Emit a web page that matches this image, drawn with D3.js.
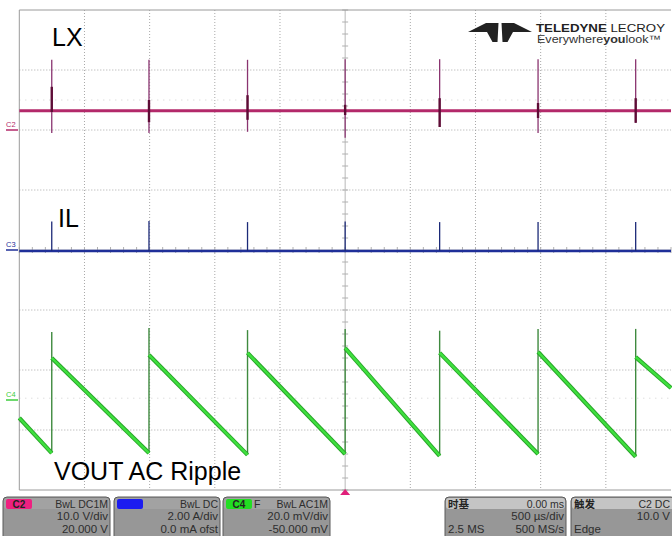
<!DOCTYPE html>
<html>
<head>
<meta charset="utf-8">
<script src="https://cdn.jsdelivr.net/npm/d3@7"></script>
<style>
  body { margin: 0; background: #fff; }
  svg { display: block; font-family: "Liberation Sans", Arial, sans-serif; }
</style>
</head>
<body>
<div id="scope"></div>
<script>
// timebase 500 us/div, 10 div across, trigger at 0
var timeDomain = [-2500, 2500];
var divDomain = [-4, 4];

// switching pulse times (us)
var pulseTimes = [-2251, -1505, -749, 0, 725, 1480, 2229];

// C2 : LX (V)
var lxBase = 3.2;
var lxSpikeMax = [11.7, 11.7, 11.7, 11.8, 11.8, 11.8, 11.8];
var lxSpikeMin = [-0.5, -0.5, -0.3, -1.3, 0.5, -0.5, 1.2];
var lxBodyHi = [7.2, 5.0, 5.8, 4.2, 5.3, 4.5, 5.3];
var lxBodyLo = [3.0, 1.3, 1.7, 2.5, 0.5, 2.0, 1.2];

// C3 : IL (A)
var ilBase = 0;
var ilPeak = [0.95, 0.97, 0.93, 0.95, 0.93, 0.93, 0.93];

// C4 : VOUT ripple (mV)
var voutTop = [22.7, 24.0, 23.3, 23.7, 23.1, 23.7, 23.7];
var voutStart = [14.0, 15.0, 15.7, 17.3, 15.7, 16.0, 14.3];
var voutEnd = [-17.7, -17.7, -18.3, -18.0, -18.6, -18.0, -18.9];
var voutEdge = [-6, 4];

// channel settings: per div and offset
var chNames = ["C2", "C3", "C4"];
var chPerDiv = [10, 2, 20];
var chOffset = [20, 0, -50];

// readout panels
var chHeader = ["BwL DC1M", "BwL DC", "BwL AC1M"];
var chLine1 = ["10.0 V/div", "2.00 A/div", "20.0 mV/div"];
var chLine2 = ["20.000 V", "0.0 mA ofst", "-50.000 mV"];

var width = 672, height = 536;
var svg = d3.select("#scope").append("svg")
    .attr("width", width)
    .attr("height", height);

var x = d3.scaleLinear().domain(timeDomain).range([19.3, 671]);
var y = d3.scaleLinear().domain(divDomain).range([490, 10]);

// convert channel units to divisions
function toDiv(ch, v) { return (v + chOffset[ch]) / chPerDiv[ch]; }
function yc(ch, v) { return y(toDiv(ch, v)); }

var grid = svg.append("g");

// dotted grid
grid.append("g")
  .selectAll("line")
    .data(d3.range(-2000, 2500, 500).filter(function(d) { return d !== 0; }))
  .enter().append("line")
    .attr("x1", function(d) { return x(d); })
    .attr("x2", function(d) { return x(d); })
    .attr("y1", y(4))
    .attr("y2", y(-4))
    .attr("stroke", "#a8a8a8")
    .attr("stroke-dasharray", "1,2");

grid.append("g")
  .selectAll("line")
    .data(d3.range(-3, 4, 1).filter(function(d) { return d !== 0; }))
  .enter().append("line")
    .attr("x1", x(-2500))
    .attr("x2", x(2500))
    .attr("y1", function(d) { return y(d); })
    .attr("y2", function(d) { return y(d); })
    .attr("stroke", "#a8a8a8")
    .attr("stroke-dasharray", "1,2");

// faint level markers
grid.append("g")
  .selectAll("line")
    .data([2.5, -2.47])
  .enter().append("line")
    .attr("x1", x(-2500))
    .attr("x2", x(2500))
    .attr("y1", function(d) { return y(d); })
    .attr("y2", function(d) { return y(d); })
    .attr("stroke", "#cfcfcf")
    .attr("stroke-dasharray", "1,5");

// center cross with minor ticks
grid.append("line")
    .attr("x1", x(0)).attr("x2", x(0))
    .attr("y1", y(4)).attr("y2", y(-4))
    .attr("stroke", "#b8b8b8");
grid.append("line")
    .attr("x1", x(-2500)).attr("x2", x(2500))
    .attr("y1", y(0)).attr("y2", y(0))
    .attr("stroke", "#b8b8b8");

grid.append("g")
  .selectAll("line")
    .data(d3.range(-4, 4.01, 0.2))
  .enter().append("line")
    .attr("x1", x(0) - 3).attr("x2", x(0) + 3)
    .attr("y1", function(d) { return y(d); })
    .attr("y2", function(d) { return y(d); })
    .attr("stroke", "#b0b0b0");

grid.append("g")
  .selectAll("line")
    .data(d3.range(-2500, 2501, 100))
  .enter().append("line")
    .attr("y1", y(0) - 3).attr("y2", y(0) + 3)
    .attr("x1", function(d) { return x(d); })
    .attr("x2", function(d) { return x(d); })
    .attr("stroke", "#b0b0b0");

// frame
grid.append("path")
    .attr("d", "M" + x(2500) + "," + y(4) + "H" + x(-2500) + "V" + y(-4) + "H" + x(2500))
    .attr("fill", "none")
    .attr("stroke", "#9a9a9a");

// ---- C2 LX trace
var lx = svg.append("g");
lx.append("line")
    .attr("x1", x(-2500)).attr("x2", x(2500))
    .attr("y1", yc(0, lxBase)).attr("y2", yc(0, lxBase))
    .attr("stroke", "#b3296a")
    .attr("stroke-width", 3);

lx.selectAll(".thin")
    .data(pulseTimes)
  .enter().append("line")
    .attr("x1", function(d) { return x(d); })
    .attr("x2", function(d) { return x(d); })
    .attr("y1", function(d, i) { return yc(0, lxSpikeMax[i]); })
    .attr("y2", function(d, i) { return yc(0, lxSpikeMin[i]); })
    .attr("stroke", "#8a3470")
    .attr("stroke-width", 1.3);

lx.selectAll(".body")
    .data(pulseTimes)
  .enter().append("line")
    .attr("x1", function(d) { return x(d); })
    .attr("x2", function(d) { return x(d); })
    .attr("y1", function(d, i) { return yc(0, lxBodyHi[i]); })
    .attr("y2", function(d, i) { return yc(0, lxBodyLo[i]); })
    .attr("stroke", "#5e0c36")
    .attr("stroke-width", 2.4);

// ---- C3 IL trace
var il = svg.append("g");
il.append("line")
    .attr("x1", x(-2500)).attr("x2", x(2500))
    .attr("y1", yc(1, ilBase) + 1).attr("y2", yc(1, ilBase) + 1)
    .attr("stroke", "#1f2f99")
    .attr("stroke-width", 2.6);

il.selectAll(".spike")
    .data(pulseTimes)
  .enter().append("line")
    .attr("x1", function(d) { return x(d); })
    .attr("x2", function(d) { return x(d); })
    .attr("y1", function(d, i) { return yc(1, ilPeak[i]); })
    .attr("y2", yc(1, ilBase) + 1)
    .attr("stroke", "#1c2a78")
    .attr("stroke-width", 1.3);

// ---- C4 VOUT ripple
var ramps = [];
ramps.push([[timeDomain[0], voutEdge[0]], [pulseTimes[0], voutEnd[0]]]);
for (var i = 0; i < pulseTimes.length; i++) {
  var tEnd = i < pulseTimes.length - 1 ? pulseTimes[i + 1] : timeDomain[1];
  var vEnd = i < pulseTimes.length - 1 ? voutEnd[i + 1] : voutEdge[1];
  ramps.push([[pulseTimes[i], voutStart[i]], [tEnd, vEnd]]);
}

var line = d3.line()
    .x(function(d) { return x(d[0]); })
    .y(function(d) { return yc(2, d[1]); });

var vout = svg.append("g");

vout.selectAll(".jump")
    .data(pulseTimes)
  .enter().append("line")
    .attr("x1", function(d) { return x(d); })
    .attr("x2", function(d) { return x(d); })
    .attr("y1", function(d, i) { return yc(2, voutEnd[i]); })
    .attr("y2", function(d, i) { return yc(2, voutTop[i]); })
    .attr("stroke", "#3f8a3f")
    .attr("stroke-width", 1.4);

vout.selectAll(".edge")
    .data(ramps)
  .enter().append("path")
    .attr("d", line)
    .attr("fill", "none")
    .attr("stroke", "#26a326")
    .attr("stroke-width", 4.2);

vout.selectAll(".core")
    .data(ramps)
  .enter().append("path")
    .attr("d", line)
    .attr("fill", "none")
    .attr("stroke", "#3fe03f")
    .attr("stroke-width", 2.4);

// ground markers on the left
var chColor = ["#b3296a", "#1f2f99", "#3ccc3c"];
var markers = svg.append("g");
chNames.forEach(function(name, i) {
  var yy = y(toDiv(i, 0));
  markers.append("text")
      .attr("x", 6)
      .attr("y", yy - 3)
      .attr("font-size", 7.5)
      .attr("fill", chColor[i])
      .text(name);
  markers.append("line")
      .attr("x1", 6).attr("x2", 18)
      .attr("y1", yy).attr("y2", yy)
      .attr("stroke", chColor[i])
      .attr("stroke-width", 1.5);
});

// trace labels
var labels = svg.append("g")
    .attr("font-size", 25)
    .attr("fill", "#000");
labels.append("text").attr("x", 52).attr("y", 46).text("LX");
labels.append("text").attr("x", 58).attr("y", 227).text("IL");
labels.append("text").attr("x", 54).attr("y", 480).text("VOUT AC Ripple");

// trigger marker
svg.append("path")
    .attr("d", "M" + x(0) + ",489l-5,6h10z")
    .attr("fill", "#e0207a");

// logo
var logo = svg.append("g");
logo.append("path")
    .attr("d", "M468,32L486,23H498.5L497.5,42H492.5L487,32Z")
    .attr("fill", "#222");
logo.append("path")
    .attr("d", "M532,32L514,23H501.5L502.5,42H507.5L513,32Z")
    .attr("fill", "#222");
var logoText = logo.append("text")
    .attr("x", 536).attr("y", 31.5)
    .attr("font-size", 11.5)
    .attr("textLength", 129)
    .attr("lengthAdjust", "spacingAndGlyphs")
    .attr("fill", "#222");
logoText.append("tspan").attr("font-weight", "bold").text("TELEDYNE");
logoText.append("tspan").text(" LECROY");
var logoTag = logo.append("text")
    .attr("x", 537).attr("y", 42.5)
    .attr("font-size", 11)
    .attr("textLength", 124)
    .attr("lengthAdjust", "spacingAndGlyphs")
    .attr("fill", "#333");
logoTag.append("tspan").text("Everywhere");
logoTag.append("tspan").attr("font-weight", "bold").text("you");
logoTag.append("tspan").text("look\u2122");

// ---- readout panels
var panels = svg.append("g");
var badgeColor = ["#ee2080", "#1c1cf0", "#22dd22"];
var panelX = [3, 114, 223];
var panelW = [107, 106, 107];
var rowY = [507.5, 520, 532.5];
var rowSize = [10.5, 11.5, 11.5];

function panelBox(px, pw, headerFill) {
  panels.append("rect")
      .attr("x", px).attr("y", 497)
      .attr("width", pw).attr("height", 45)
      .attr("rx", 4)
      .attr("fill", "#979797")
      .attr("stroke", "#5a5a5a");
  panels.append("rect")
      .attr("x", px + 1).attr("y", 498)
      .attr("width", pw - 2).attr("height", 11)
      .attr("rx", 3)
      .attr("fill", headerFill);
}

chNames.forEach(function(name, i) {
  var px = panelX[i], pw = panelW[i];
  panelBox(px, pw, "#a2a2a2");
  panels.append("rect")
      .attr("x", px + 3).attr("y", 499)
      .attr("width", 26).attr("height", 10)
      .attr("rx", 2)
      .attr("fill", badgeColor[i]);
  panels.append("text")
      .attr("x", px + 16).attr("y", 507.5)
      .attr("text-anchor", "middle")
      .attr("font-size", 10)
      .attr("font-weight", "bold")
      .attr("fill", i === 1 ? badgeColor[i] : "#222")
      .text(name);
  if (i === 2) {
    panels.append("text")
        .attr("x", px + 31).attr("y", rowY[0])
        .attr("font-size", 10.5)
        .attr("fill", "#2a2a2a")
        .text("F");
  }
  [chHeader[i], chLine1[i], chLine2[i]].forEach(function(t, j) {
    panels.append("text")
        .attr("x", px + pw - 2).attr("y", rowY[j])
        .attr("text-anchor", "end")
        .attr("font-size", rowSize[j])
        .attr("fill", "#2e2e2e")
        .text(t);
  });
});

// timebase and trigger panels
var infoX = [445, 571];
var infoW = [121, 104];
var infoTitle = ["时基", "触发"];
var infoRight = [["0.00 ms", "500 µs/div", "500 MS/s"], ["C2 DC", "10.0 V", ""]];
var infoLeft = ["2.5 MS", "Edge"];

infoX.forEach(function(px, i) {
  var pw = infoW[i];
  panelBox(px, pw, "#c4c4c4");
  panels.append("text")
      .attr("x", px + 3).attr("y", rowY[0])
      .attr("font-size", 10.5)
      .attr("font-weight", "bold")
      .attr("font-family", "Noto Sans CJK SC")
      .attr("fill", "#222")
      .text(infoTitle[i]);
  infoRight[i].forEach(function(t, j) {
    panels.append("text")
        .attr("x", px + pw - 2 - (i === 1 ? 3 : 0)).attr("y", rowY[j])
        .attr("text-anchor", "end")
        .attr("font-size", rowSize[j])
        .attr("fill", "#2e2e2e")
        .text(t);
  });
  panels.append("text")
      .attr("x", px + 3).attr("y", rowY[2])
      .attr("font-size", rowSize[2])
      .attr("fill", "#2e2e2e")
      .text(infoLeft[i]);
});
</script>
</body>
</html>
